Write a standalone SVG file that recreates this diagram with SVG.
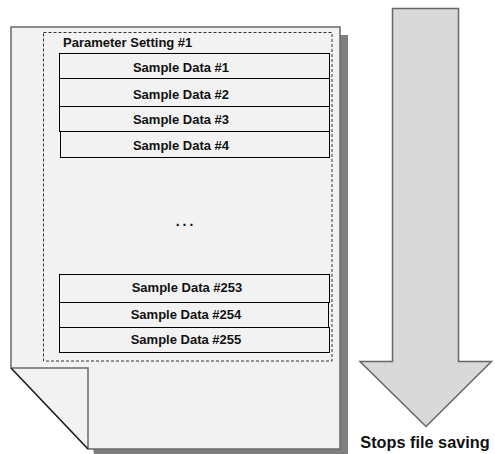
<svg xmlns="http://www.w3.org/2000/svg" width="495" height="454" viewBox="0 0 495 454">
<style>
.t{font-family:"Liberation Sans",Arial,sans-serif;font-weight:bold;font-size:13px;fill:#111}
.row{fill:#f2f2f2;stroke:#000;stroke-width:1}
</style>
<rect width="495" height="454" fill="#fff"/>
<g id="page">
<path d="M19,35 H348 V454 H94 Z" fill="#7f7f7f"/>
<path d="M11,27 H340 V449 H88 L11,368 Z" fill="#f2f2f2" stroke="#6a6a6a" stroke-width="1.5"/>
<path d="M11,368 H88 V449" fill="none" stroke="#6a6a6a" stroke-width="1.5"/>
<line x1="11" y1="368" x2="88" y2="449" stroke="#202020" stroke-width="1.2"/>
</g>
<g id="param">
<rect x="43.5" y="32.5" width="288.5" height="328.5" fill="none" stroke="#333" stroke-width="1" stroke-dasharray="3,2"/>
<text class="t" x="63" y="47">Parameter Setting #1</text>
</g>
<g id="s1"><rect class="row" x="59.5" y="53.5" width="270" height="25"/><text class="t" x="181" y="72" text-anchor="middle">Sample Data #1</text></g>
<g id="s2"><rect class="row" x="59.5" y="78.5" width="270" height="28"/><text class="t" x="181" y="98.5" text-anchor="middle">Sample Data #2</text></g>
<g id="s3"><rect class="row" x="59.5" y="106.5" width="270" height="25"/><text class="t" x="181" y="123.5" text-anchor="middle">Sample Data #3</text></g>
<g id="s4"><rect class="row" x="60.5" y="131.5" width="269" height="26"/><text class="t" x="181" y="149.5" text-anchor="middle">Sample Data #4</text></g>
<g id="dots"><text class="t" x="186" y="226" text-anchor="middle" style="letter-spacing:3px;font-size:14px">...</text></g>
<g id="s253"><rect class="row" x="59.5" y="274.5" width="270" height="28"/><text class="t" x="187" y="292" text-anchor="middle">Sample Data #253</text></g>
<g id="s254"><rect class="row" x="59.5" y="302.5" width="269" height="25"/><text class="t" x="186" y="318.5" text-anchor="middle">Sample Data #254</text></g>
<g id="s255"><rect class="row" x="59.5" y="327.5" width="270" height="25"/><text class="t" x="186" y="343.5" text-anchor="middle">Sample Data #255</text></g>
<g id="arrow">
<path d="M392.5,8.5 H458.5 V361.5 H491.5 L426,426.5 L360,361.5 H392.5 Z" fill="#d9d9d9" stroke="#666" stroke-width="1.5"/>
<text class="t" x="425" y="448" text-anchor="middle" style="font-size:16.3px">Stops file saving</text>
</g>
</svg>
